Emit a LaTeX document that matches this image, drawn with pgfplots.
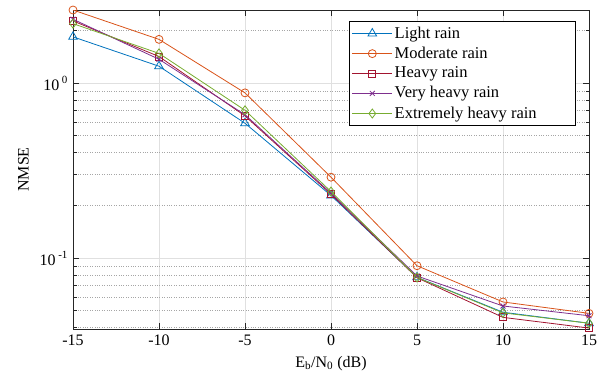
\documentclass[border=0pt]{standalone}
\usepackage{fontspec}
\setmainfont{Liberation Serif}
\usepackage{pgfplots}
\pgfplotsset{compat=1.18}
\definecolor{c1}{rgb}{0,0.447,0.741}
\definecolor{c2}{rgb}{0.85,0.325,0.098}
\definecolor{c3}{rgb}{0.635,0.078,0.184}
\definecolor{c4}{rgb}{0.494,0.184,0.556}
\definecolor{c5}{rgb}{0.466,0.674,0.188}
\begin{document}
\fontsize{16}{18}\selectfont
\begin{tikzpicture}
\begin{axis}[name=ax, scale only axis, width=516pt, height=319pt,
  ymode=log, xmin=-15, xmax=15, ymin=0.0393, ymax=2.62,
  xtick={-15,-10,-5,0,5,10,15}, xticklabels={-15,-10,-5,0,5,10,15},
  ytick={0.1,1},
  minor ytick={0.04,0.05,0.06,0.07,0.08,0.09,0.2,0.3,0.4,0.5,0.6,0.7,0.8,0.9,2},
  yticklabels={10\,\raisebox{0.45em}{\fontsize{11}{11}\selectfont -1}, 10\,\raisebox{0.45em}{\fontsize{11}{11}\selectfont 0}},
  grid=both,
  major grid style={black!12, line width=0.7pt},
  minor grid style={black!35, dotted, line width=0.7pt},
  tick align=inside, major tick length=6pt, minor tick length=3.5pt,
  axis line style={black!85, line width=0.8pt},
  every tick/.style={black!85, line width=0.7pt},
  tick label style={font=\fontsize{16}{18}\selectfont},
  xlabel={E\textsubscript{b}/N\textsubscript{0} (dB)},
  ylabel={NMSE},
  label style={font=\fontsize{16}{18}\selectfont},
  clip mode=individual,
  every axis plot/.append style={line width=0.8pt, mark size=4pt},
  legend style={at={(rel axis cs:0.975,0.965)}, anchor=north east, draw=black, line width=0.8pt,
    font=\fontsize{16.5}{18}\selectfont, row sep=2.3pt, inner sep=3pt},
  legend cell align=left,
  legend image code/.code={\draw[mark repeat=2,mark phase=2] plot coordinates {(0pt,0pt) (20pt,0pt) (40pt,0pt)};},
]
\addplot[c1, mark=triangle, mark size=5pt] coordinates {(-15,1.84) (-10,1.25) (-5,0.59) (0,0.228) (5,0.0776) (10,0.0490) (15,0.0424)};
\addlegendentry{\makebox[176pt][l]{Light rain}}
\addplot[c2, mark=o] coordinates {(-15,2.62) (-10,1.78) (-5,0.88) (0,0.29) (5,0.0904) (10,0.0561) (15,0.0483)};
\addlegendentry{Moderate rain}
\addplot[c3, mark=square, mark size=3.5pt] coordinates {(-15,2.27) (-10,1.42) (-5,0.65) (0,0.232) (5,0.0772) (10,0.0458) (15,0.0398)};
\addlegendentry{Heavy rain}
\addplot[c4, mark=x, mark size=3.5pt] coordinates {(-15,2.32) (-10,1.37) (-5,0.66) (0,0.235) (5,0.0790) (10,0.0532) (15,0.0468)};
\addlegendentry{Very heavy rain}
\addplot[c5, mark=diamond, mark size=4.5pt] coordinates {(-15,2.19) (-10,1.48) (-5,0.70) (0,0.240) (5,0.0775) (10,0.0486) (15,0.0424)};
\addlegendentry{Extremely heavy rain}
\end{axis}
\pgfresetboundingbox
\path ([shift={(-73pt,-51pt)}]ax.south west) rectangle ([shift={(9pt,10pt)}]ax.north east);
\end{tikzpicture}
\end{document}
